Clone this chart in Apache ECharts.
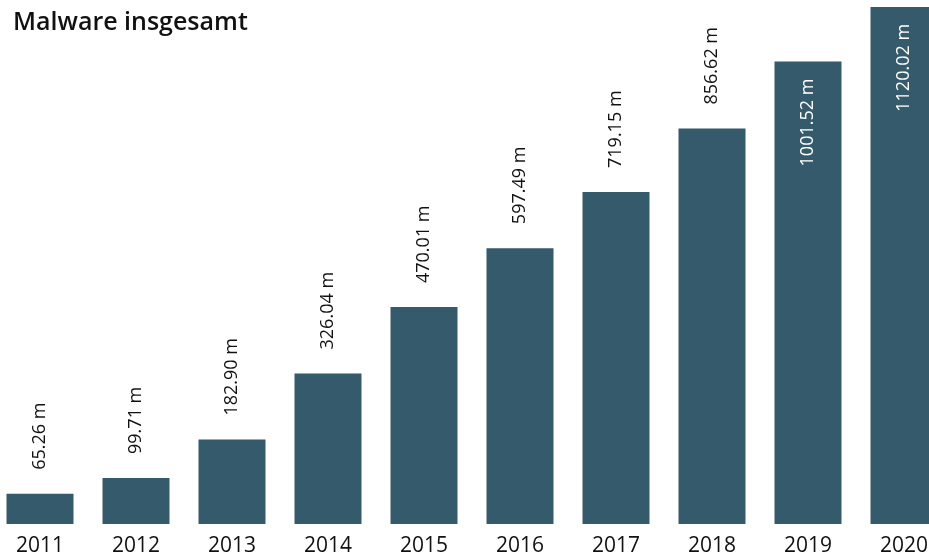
<!DOCTYPE html>
<html>
<head>
<meta charset="utf-8">
<script src="https://cdn.jsdelivr.net/npm/echarts@6/dist/echarts.min.js"></script>
<style>
  html, body { margin: 0; padding: 0; background: #fff; }
  #myChart { width: 929px; height: 559px; }
</style>
</head>
<body>
<div id="myChart"></div>
<script>
  var years = ['2011', '2012', '2013', '2014', '2015', '2016', '2017', '2018', '2019', '2020']
  var malware = [65.26, 99.71, 182.90, 326.04, 470.01, 597.49, 719.15, 856.62, 1001.52, 1120.02]
  // last two bars carry their label inside
  var insideFrom = 8

  var barColor = '#345a6c'
  var font = 'Open Sans'

  var seriesData = malware.map(function (v, i) {
    if (i < insideFrom) return v
    return {
      value: v,
      label: {
        position: 'insideTop',
        align: 'right',
        distance: 17,
        color: '#ffffff'
      }
    }
  })

  var myChart = echarts.init(document.getElementById('myChart'))
  myChart.setOption({
    animation: false,
    title: {
      text: 'Malware insgesamt',
      left: 8,
      top: 5,
      textStyle: { fontFamily: font, fontSize: 25, fontWeight: 600, color: '#111' }
    },
    grid: { left: -8, width: 960, top: 0, bottom: 35, outerBoundsMode: 'none', containLabel: false },
    xAxis: {
      type: 'category',
      data: years,
      axisLine: { show: false },
      axisTick: { show: false },
      axisLabel: { margin: 12, fontFamily: font, fontSize: 21, color: '#111' }
    },
    yAxis: {
      type: 'value',
      min: 0,
      max: 1135,
      show: false,
      splitLine: { show: false }
    },
    series: [{
      type: 'bar',
      data: seriesData,
      barWidth: 67,
      itemStyle: { color: barColor },
      label: {
        show: true,
        position: 'top',
        rotate: 90,
        align: 'left',
        verticalAlign: 'middle',
        distance: 24,
        fontFamily: font,
        fontSize: 18,
        fontWeight: 500,
        color: '#111',
        formatter: function (p) { return p.value.toFixed(2) + ' m' }
      }
    }]
  })
</script>
</body>
</html>
